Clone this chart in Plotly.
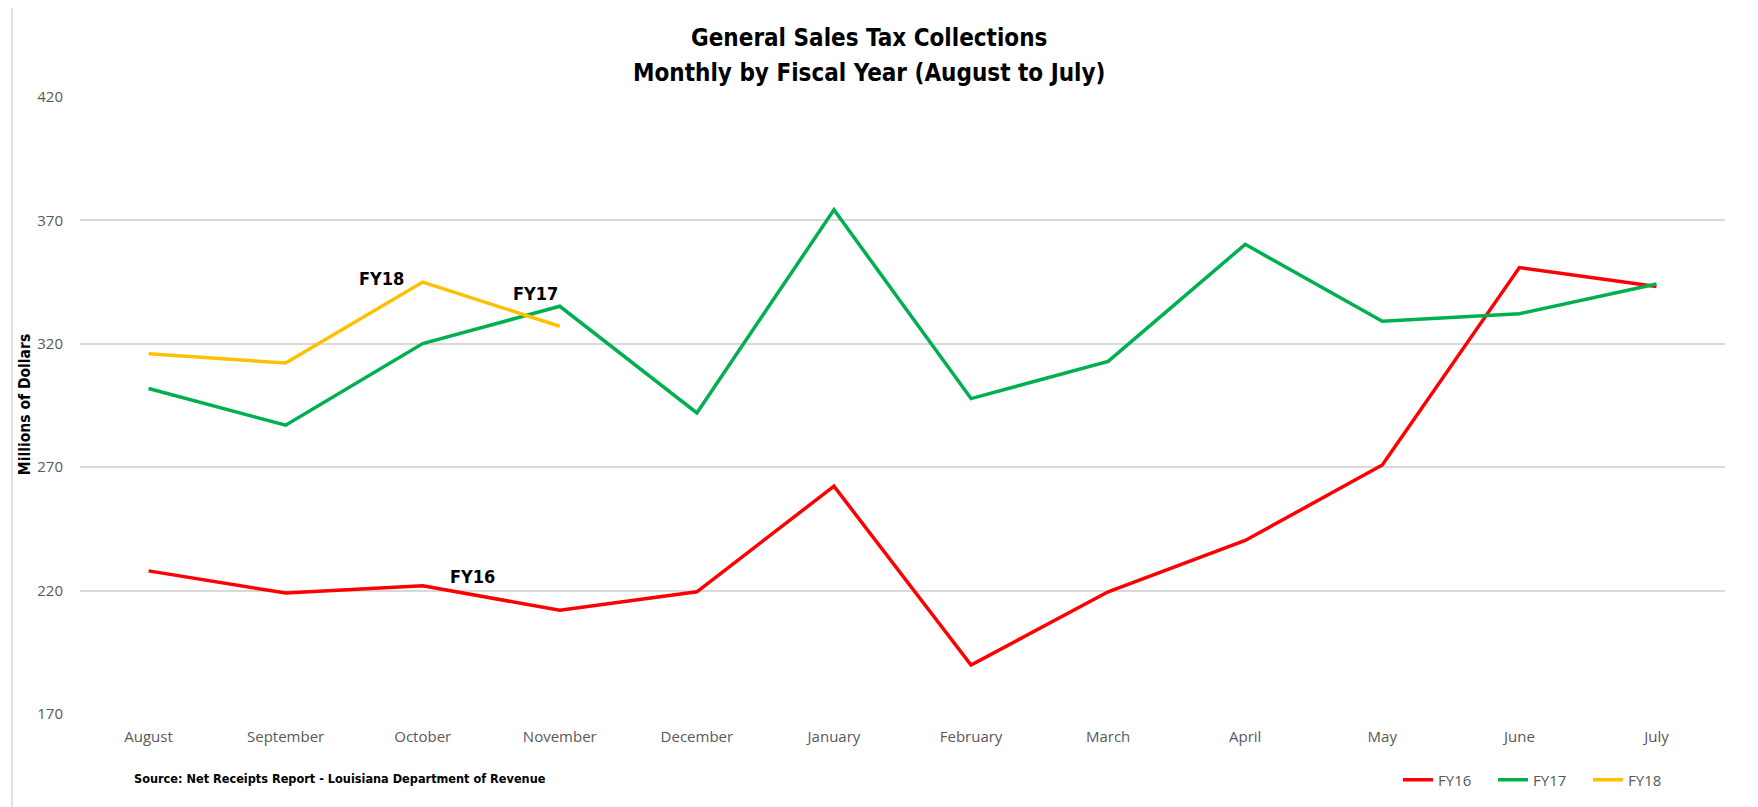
import plotly.graph_objects as go

months = ["August", "September", "October", "November", "December", "January",
          "February", "March", "April", "May", "June", "July"]
fy16 = [228.0, 219.0, 222.0, 212.0, 219.5, 262.3, 189.8, 219.5, 240.3, 270.9, 350.9, 343.2]
fy17 = [301.9, 287.0, 320.1, 335.2, 292.0, 374.3, 297.8, 312.9, 360.3, 329.1, 332.2, 344.2]
fy18 = [316.0, 312.2, 345.0, 327.1]
y_ticks = [170, 220, 270, 320, 370, 420]

OFF = 8  # page body margin
W, H = 1750, 799
# desired plot area in page pixels: x 80..1725, y 96.5..714
L = 80 - OFF
R = W - (1725 - OFF)
T = 96.5 - OFF
B = H - (714 - OFF)
PW, PH = W - L - R, H - T - B

def px_x(x):
    return (x - OFF - L) / PW

def px_y(y):
    return (H - B - (y - OFF)) / PH

NARROW = "Liberation Sans Narrow, DejaVu Sans Condensed, Arial Narrow, sans-serif"
TICKF = "Open Sans, sans-serif"

fig = go.Figure()
fig.add_trace(go.Scatter(x=months, y=fy16, name="FY16", mode="lines",
                         line=dict(color="#FF0000", width=3.5)))
fig.add_trace(go.Scatter(x=months, y=fy17, name="FY17", mode="lines",
                         line=dict(color="#00B050", width=3.5)))
fig.add_trace(go.Scatter(x=months[:len(fy18)], y=fy18, name="FY18", mode="lines",
                         line=dict(color="#FFC000", width=3.5)))

fig.update_layout(
    width=W, height=H,
    margin=dict(l=L, r=R, t=T, b=B, autoexpand=False),
    paper_bgcolor="white", plot_bgcolor="white",
    showlegend=True,
    legend=dict(orientation="h", x=px_x(1398), xanchor="left", y=px_y(780), yanchor="middle",
                font=dict(family=TICKF, size=15, color="#595959"),
                bgcolor="rgba(0,0,0,0)", itemwidth=30, tracegroupgap=0,
                entrywidth=50, entrywidthmode="pixels"),
    xaxis=dict(type="category", range=[-0.5, 11.5], showgrid=False, zeroline=False,
               showline=False, ticks="", ticklabelstandoff=12,
               tickfont=dict(family=TICKF, size=15, color="#595959")),
    yaxis=dict(range=[170, 420], tickvals=y_ticks, showgrid=True, gridcolor="#D9D9D9",
               gridwidth=1.5, zeroline=False, showline=False, ticks="",
               ticklabelstandoff=16,
               tickfont=dict(family=TICKF, size=15, color="#595959")),
    shapes=[dict(type="rect", xref="paper", yref="paper",
                 x0=px_x(12), x1=px_x(W + 40), y0=px_y(6.5), y1=px_y(H + 40),
                 line=dict(color="#D9D9D9", width=1.5), fillcolor="rgba(0,0,0,0)", layer="below")],
    annotations=[
        dict(text="<b>General Sales Tax Collections</b>", xref="paper", yref="paper",
             x=px_x(869), y=px_y(37), xanchor="center", yanchor="middle", showarrow=False,
             font=dict(family=NARROW, size=24, color="#000000")),
        dict(text="<b>Monthly by Fiscal Year (August to July)</b>", xref="paper", yref="paper",
             x=px_x(869), y=px_y(72), xanchor="center", yanchor="middle", showarrow=False,
             font=dict(family=NARROW, size=24, color="#000000")),
        dict(text="<b>Millions of Dollars</b>", xref="paper", yref="paper",
             x=px_x(25), y=px_y(405), textangle=-90, showarrow=False,
             xanchor="center", yanchor="middle",
             font=dict(family=NARROW, size=15.5, color="#000000")),
        dict(text="<b>Source: Net Receipts Report - Louisiana Department of Revenue</b>",
             xref="paper", yref="paper", x=px_x(132), y=px_y(779),
             xanchor="left", yanchor="middle", showarrow=False,
             font=dict(family=NARROW, size=12.6, color="#000000")),
        dict(text="<b>FY18</b>", xref="x", yref="y", x=1.70, y=346.5, showarrow=False,
             font=dict(family=NARROW, size=18, color="#000000")),
        dict(text="<b>FY17</b>", xref="x", yref="y", x=2.82, y=340.2, showarrow=False,
             font=dict(family=NARROW, size=18, color="#000000")),
        dict(text="<b>FY16</b>", xref="x", yref="y", x=2.365, y=225.7, showarrow=False,
             font=dict(family=NARROW, size=18, color="#000000")),
    ],
)

fig.write_html("out.html")
